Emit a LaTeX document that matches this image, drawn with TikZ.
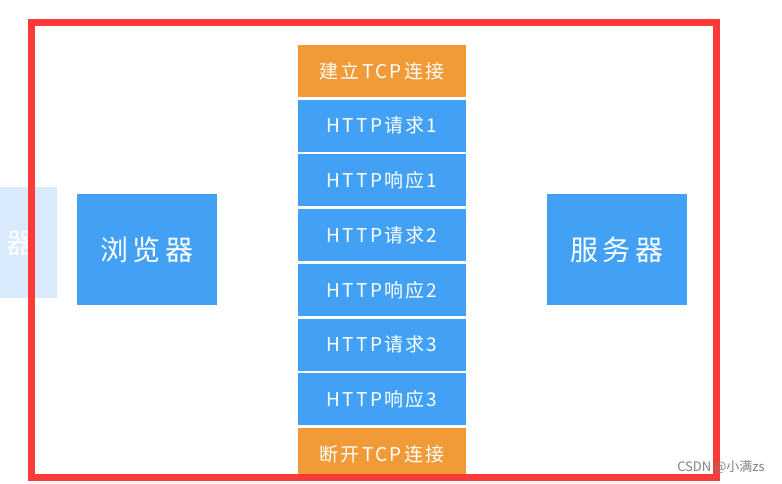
\documentclass[tikz,border=0pt]{standalone}
\usepackage{fontspec}
\usepackage{xcolor}
\usepackage{tikz}
\usetikzlibrary{positioning}
\newfontfamily\cjkfont{Noto Sans CJK SC}
\newfontfamily\cjkwide[LetterSpace=12]{Noto Sans CJK SC}
\definecolor{boxblue}{HTML}{42A1F5}
\definecolor{boxorange}{HTML}{F19A38}
\definecolor{fadeblue}{HTML}{D8EAFB}
\definecolor{framered}{HTML}{FC3A3A}
\tikzstyle{msg}=[rectangle,fill=boxblue,text=white,minimum width=168pt,minimum height=52pt,inner sep=0pt,outer sep=0pt,font=\cjkwide\fontsize{19}{19}\selectfont]
\tikzstyle{tcp}=[msg,fill=boxorange]
\tikzstyle{peer}=[rectangle,fill=boxblue,text=white,minimum width=140pt,minimum height=111pt,inner sep=0pt,font=\cjkfont\fontsize{28}{28}\selectfont]

\begin{document}
\begin{tikzpicture}[x=1pt,y=-1pt,node distance=2.7pt]
        \useasboundingbox (0,0) rectangle (782,483);
        % faded copy at the left edge
        \fill[fadeblue] (0,187) rectangle (57,298);
        \node at (20,243) [text=white,font=\cjkfont\fontsize{28}{28}\selectfont] (ghost) {器};
        % browser and server
        \node at (147,249.5) [peer] (browser) {浏\,览\,器};
        \node at (617,249.5) [peer] (server) {服\,务\,器};
        % message column
        \node at (382,71) [tcp] (open) {建立TCP连接};
        \node [msg,below=of open] (req1) {HTTP请求1};
        \node [msg,below=of req1] (res1) {HTTP响应1};
        \node [msg,below=of res1] (req2) {HTTP请求2};
        \node [msg,below=of req2] (res2) {HTTP响应2};
        \node [msg,below=of res2] (req3) {HTTP请求3};
        \node [msg,below=of req3] (res3) {HTTP响应3};
        \node [tcp,below=of res3] (close) {断开TCP连接};
        % red frame
        \draw[framered,line width=7pt] (31.5,22.5) rectangle (716.5,477.5);
        \node at (721,467) [text=gray,font=\cjkfont\fontsize{13}{13}\selectfont] (mark) {CSDN @小满zs};
\end{tikzpicture}
\end{document}
